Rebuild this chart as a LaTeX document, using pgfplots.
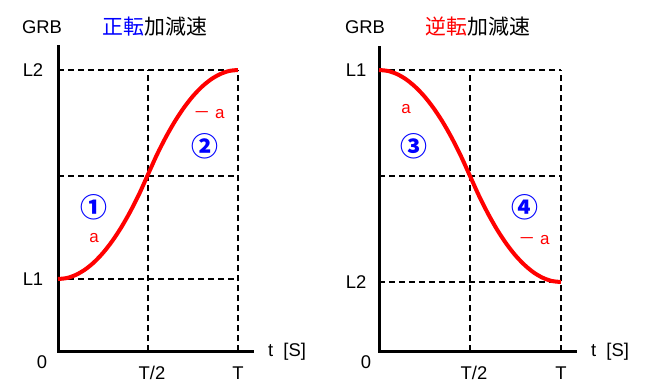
\documentclass[border=0pt]{standalone}
\usepackage{pgfplots}
\pgfplotsset{compat=1.18}
\usepackage{fontspec}
\setmainfont{Liberation Sans}
\newfontfamily\cjk{Noto Sans CJK JP}
\definecolor{myred}{RGB}{255,0,0}
\definecolor{myblue}{RGB}{0,0,255}
\pgfplotsset{
  panel/.style={
    scale only axis, anchor=south west, clip=false,
    axis x line*=bottom, axis y line*=left,
    axis line style={-, line width=3bp, line cap=rect},
    xtick=\empty, ytick=\empty,
    xmin=0, ymin=0,
  },
  grid line/.style={black, line width=1.5bp, dash pattern=on 6bp off 4bp, forget plot},
  curve/.style={myred, line width=4bp, smooth, line cap=butt},
}
\newcommand\circfont{\fontsize{27}{29}\selectfont\cjk\bfseries}
\newcommand\afont{\fontsize{17}{19}\selectfont}
\newcommand\titlefont{\fontsize{21}{24}\selectfont\cjk}
\begin{document}
\begin{tikzpicture}[x=1bp,y=1bp,font=\fontsize{18.5}{21}\selectfont]
\useasboundingbox (0,0) rectangle (647,390);
% Left panel
\begin{axis}[panel, at={(58bp,39bp)}, width=194bp, height=304bp, xmax=1.078, ymax=304]
\addplot[grid line] coordinates {(0,281) (1,281)};
\addplot[grid line] coordinates {(0,175) (1,175)};
\addplot[grid line] coordinates {(0,72) (1,72)};
\addplot[grid line] coordinates {(0.5,0) (0.5,281)};
\addplot[grid line] coordinates {(1,0) (1,281)};
\addplot[curve] coordinates {
(0,72) (0.05,73) (0.1,76.2) (0.15,81.4) (0.2,88.7) (0.25,98.1) (0.3,109.6)
(0.35,123.2) (0.4,138.9) (0.45,156.6) (0.5,176.5) (0.55,196.4) (0.6,214.1)
(0.65,229.8) (0.7,243.4) (0.75,254.9) (0.8,264.3) (0.85,271.6) (0.9,276.8)
(0.95,280) (1,281)};
\end{axis}
% Right panel
\begin{axis}[panel, at={(379bp,39bp)}, width=196bp, height=303bp, xmax=1.077, ymax=303]
\addplot[grid line] coordinates {(0,281) (1,281)};
\addplot[grid line] coordinates {(0,175) (1,175)};
\addplot[grid line] coordinates {(0,69) (1,69)};
\addplot[grid line] coordinates {(0.5,0) (0.5,281)};
\addplot[grid line] coordinates {(1,0) (1,281)};
\addplot[curve] coordinates {
(0,281) (0.05,280) (0.1,276.8) (0.15,271.5) (0.2,264) (0.25,254.5) (0.3,242.8)
(0.35,229) (0.4,213) (0.45,195) (0.5,175) (0.55,155) (0.6,137) (0.65,121)
(0.7,107.2) (0.75,95.5) (0.8,86) (0.85,78.5) (0.9,73.2) (0.95,70) (1,69)};
\end{axis}
% Left labels
\node at (42,363) {GRB};
\node at (155,363) {\titlefont\textcolor{myblue}{正転}加減速};
\node at (33,320) {L2};
\node at (33,111) {L1};
\node at (42,28) {0};
\node at (152,17) {T/2};
\node at (238,17) {T};
\node at (287,38) {t\ \ [S]};
\node[myred] at (209,276) {\afont\cjk －\rmfamily\ a};
\node[myblue] at (205,244) {\circfont ②};
\node[myblue] at (94,183) {\circfont ①};
\node[myred] at (94,152) {\afont a};
% Right labels
\node at (365,363) {GRB};
\node at (478,363) {\titlefont\textcolor{myred}{逆転}加減速};
\node at (356,320) {L1};
\node at (356,108) {L2};
\node at (366,28) {0};
\node at (474,17) {T/2};
\node at (561,17) {T};
\node at (610,38) {t\ \ [S]};
\node[myred] at (406,281) {\afont a};
\node[myblue] at (414,244) {\circfont ③};
\node[myblue] at (525,183) {\circfont ④};
\node[myred] at (534,150) {\afont\cjk －\rmfamily\ a};
\end{tikzpicture}
\end{document}
